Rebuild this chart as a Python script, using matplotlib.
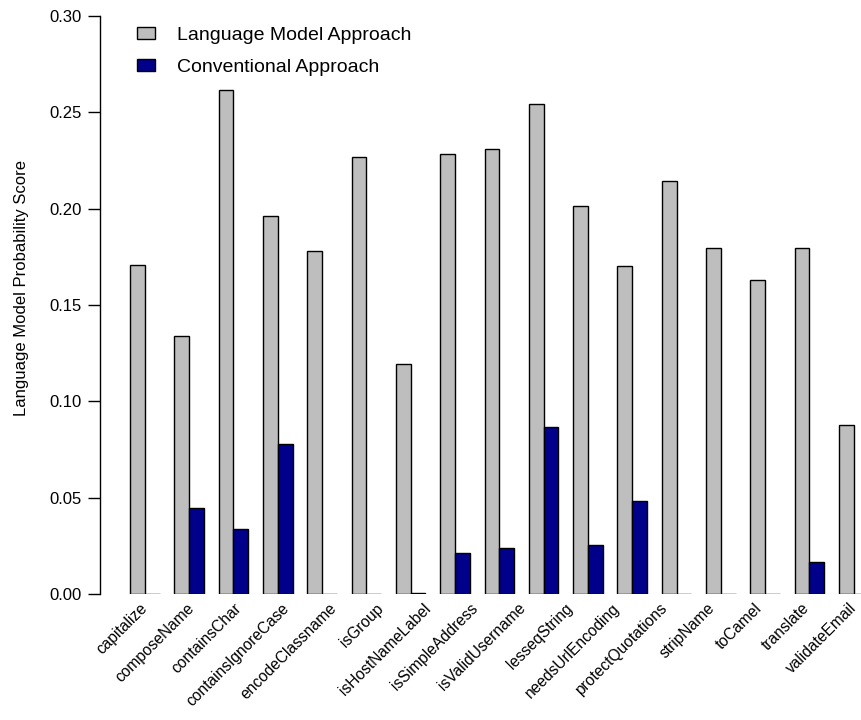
import matplotlib.pyplot as plt
import numpy as np

# Scores par groupe de barres (gris = modele de langage, bleu = approche conventionnelle)
lm_scores = [0.1706, 0.1339, 0.2614, 0.1960, 0.1780, 0.2265, 0.1194, 0.2282, 0.2311,
             0.2544, 0.2011, 0.1700, 0.2141, 0.1798, 0.1628, 0.1794, 0.0876]
conv_scores = [0.0, 0.0448, 0.0338, 0.0780, 0.0, 0.0, 0.0005, 0.0215, 0.0238,
               0.0867, 0.0254, 0.0483, 0.0, 0.0, 0.0, 0.0169, 0.0]
noms = ["capitalize", "composeName", "containsChar", "containsIgnoreCase",
        "encodeClassname", "isGroup", "isHostNameLabel", "isSimpleAddress",
        "isValidUsername", "lesseqString", "needsUrlEncoding", "protectQuotations",
        "stripName", "toCamel", "translate", "validateEmail"]
yticks = [0.00, 0.05, 0.10, 0.15, 0.20, 0.25, 0.30]

plt.rcParams["font.family"] = ["Liberation Sans", "DejaVu Sans"]

fig = plt.figure(figsize=(8.61, 7.2), dpi=100)
ax = fig.add_axes([0.1156, 0.1746, 0.8844, 0.8036])

# barplot a la R : largeur 1, un espace entre les groupes
groupes = np.arange(len(lm_scores))
x_lm = 1 + 3 * groupes
x_conv = 2 + 3 * groupes

ax.bar(x_lm, lm_scores, width=1, align="edge", color="#bebebe",
       edgecolor="black", linewidth=1.0, label="Language Model Approach")
ax.bar(x_conv, conv_scores, width=1, align="edge", color="#00008b",
       edgecolor="black", linewidth=1.0, label="Conventional Approach")

ax.set_xlim(-1.065, 50.49)
ax.set_ylim(0, 0.30)

# etiquettes inclinees, reparties sur toute la largeur des groupes
centres = np.linspace(x_conv[0], x_conv[-1], len(noms))
for xc, nom in zip(centres, noms):
    ax.text(xc, -0.006, nom, rotation=45, rotation_mode="anchor",
            ha="right", va="center", fontsize=11.2, clip_on=False)

ax.set_xticks([])
ax.set_yticks(yticks)
ax.set_yticklabels([f"{v:.2f}" for v in yticks], fontsize=12)
ax.tick_params(axis="y", length=8.5, width=1.0, pad=4.3)
ax.set_ylabel("Language Model Probability Score", fontsize=12)
ax.yaxis.set_label_coords(-0.093, 0.530)

for cote in ["top", "right", "bottom"]:
    ax.spines[cote].set_visible(False)
ax.spines["left"].set_linewidth(1.0)

ax.legend(loc="upper left", bbox_to_anchor=(0.026, 1.011), frameon=False,
          fontsize=14, handlelength=0.93, handleheight=0.62, handletextpad=1.13,
          labelspacing=0.76)

plt.savefig("out.png", dpi=100, facecolor="white")
